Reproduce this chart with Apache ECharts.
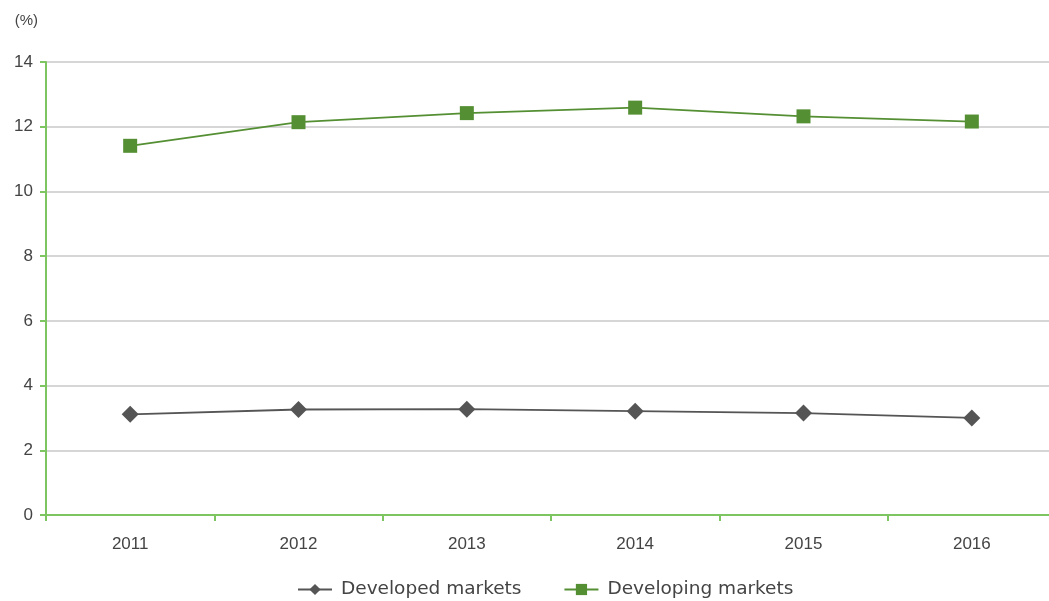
<!DOCTYPE html>
<html><head><meta charset="utf-8">
<script src="https://cdn.jsdelivr.net/npm/echarts@6/dist/echarts.min.js"></script>
<style>html,body{margin:0;padding:0;background:#fff;overflow:hidden}#c{width:1056px;height:601px}</style>
</head><body><div id="c"></div>
<script>
const categories = ['2011','2012','2013','2014','2015','2016'];
const developed = [3.11, 3.26, 3.27, 3.21, 3.15, 3.00];
const developing = [11.41, 12.14, 12.42, 12.59, 12.32, 12.16];
const seriesNames = ['Developed markets', 'Developing markets'];
const yUnit = '(%)';

const chart = echarts.init(document.getElementById('c'));
const font = 'Liberation Sans, Arial, sans-serif';
chart.setOption({
  animation: false,
  textStyle: {fontFamily: font},
  grid: {left: 46, right: 0, top: 62, bottom: 86, containLabel: false},
  legend: {
    top: 580, left: 297, padding: 0, itemGap: 42, itemWidth: 34, itemHeight: 14,
    textStyle: {fontSize: 18.5, color: '#444', fontFamily: 'DejaVu Sans, sans-serif', padding: [0, 0, 0, 4]},
    data: seriesNames
  },
  xAxis: {
    type: 'category', data: categories, boundaryGap: true,
    axisLine: {lineStyle: {color: '#7cc560', width: 2}},
    axisTick: {show: true, length: 6, lineStyle: {color: '#7cc560', width: 2}},
    axisLabel: {fontSize: 17, color: '#444', margin: 21, fontFamily: font}
  },
  yAxis: {
    type: 'value', min: 0, max: 14, interval: 2,
    name: yUnit, nameLocation: 'end', nameGap: 34,
    nameTextStyle: {fontSize: 15, color: '#444', align: 'right', padding: [0, 8, 0, 0], fontFamily: font},
    axisLine: {show: true, lineStyle: {color: '#7cc560', width: 2}},
    axisTick: {show: true, length: 6, lineStyle: {color: '#7cc560', width: 2}},
    axisLabel: {fontSize: 17, color: '#444', margin: 13, fontFamily: font},
    splitLine: {lineStyle: {color: '#c8c8c8', width: 1.5}}
  },
  series: [
    {
      name: seriesNames[0], type: 'line', data: developed,
      symbol: 'diamond', symbolSize: 17,
      itemStyle: {color: '#555'},
      lineStyle: {color: '#555', width: 1.8}
    },
    {
      name: seriesNames[1], type: 'line', data: developing,
      symbol: 'rect', symbolSize: 14,
      itemStyle: {color: '#548f33'},
      lineStyle: {color: '#548f33', width: 1.8}
    }
  ]
});
</script></body></html>
